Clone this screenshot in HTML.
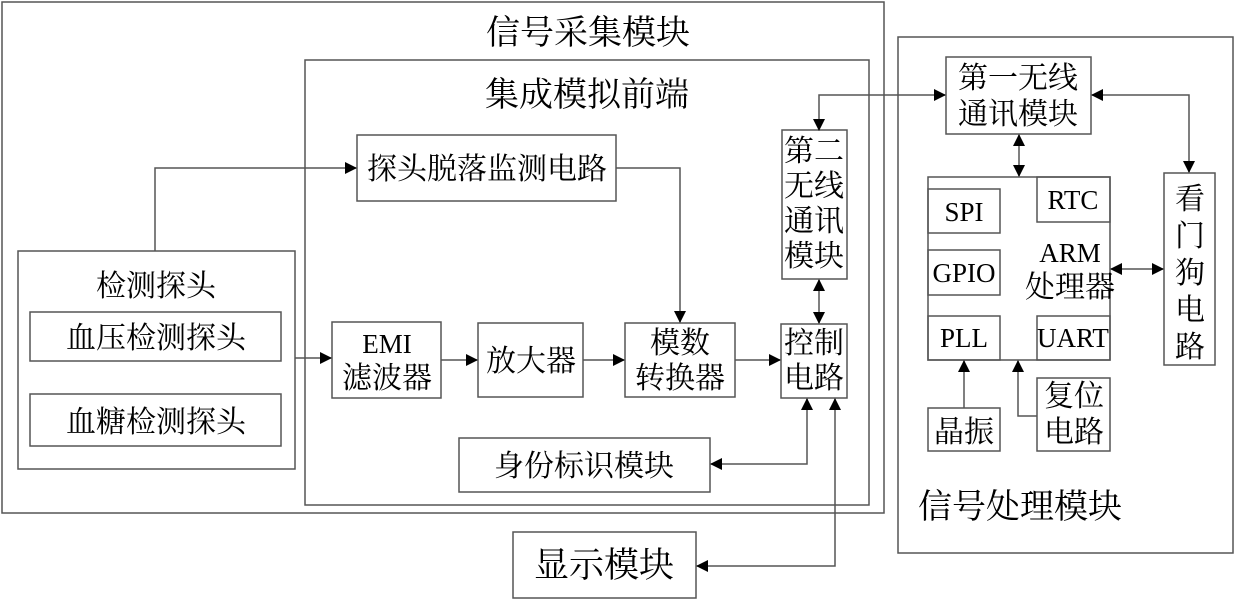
<!DOCTYPE html>
<html><head><meta charset="utf-8"><style>
html,body{margin:0;padding:0;background:#fff;}
svg{display:block;}
text{font-family:"Liberation Serif","Noto Serif CJK SC",serif;fill:#000;}
</style></head><body>
<svg width="1240" height="605" viewBox="0 0 1240 605" xmlns="http://www.w3.org/2000/svg">
<defs>
<marker id="a" markerWidth="12" markerHeight="12" refX="11" refY="6" orient="auto" markerUnits="userSpaceOnUse">
<path d="M0,0 L12,6 L0,12 Z" fill="#000"/></marker>
<marker id="s" markerWidth="12" markerHeight="12" refX="1" refY="6" orient="auto" markerUnits="userSpaceOnUse">
<path d="M12,0 L0,6 L12,12 Z" fill="#000"/></marker>
</defs>
<g fill="none" stroke="#555" stroke-width="1.5">
<rect x="2" y="2" width="882" height="511"/>
<rect x="305" y="60" width="564" height="445"/>
<rect x="18" y="251" width="277" height="218"/>
<rect x="30" y="312" width="251" height="49"/>
<rect x="30" y="394" width="251" height="52"/>
<rect x="357" y="135" width="259" height="66"/>
<rect x="332" y="322" width="109" height="76"/>
<rect x="478" y="323" width="105" height="74"/>
<rect x="625" y="323" width="110" height="74"/>
<rect x="781" y="324" width="66" height="74"/>
<rect x="782" y="130" width="65" height="149"/>
<rect x="459" y="438" width="251" height="54"/>
<rect x="513" y="532" width="183" height="66"/>
<rect x="898" y="37" width="335" height="516"/>
<rect x="946" y="57" width="145" height="77"/>
<rect x="928" y="177" width="182" height="183"/>
<rect x="928" y="189" width="72" height="44"/>
<rect x="1037" y="177" width="73" height="45"/>
<rect x="928" y="250" width="72" height="45"/>
<rect x="928" y="316" width="72" height="44"/>
<rect x="1037" y="316" width="73" height="44"/>
<rect x="1164" y="173" width="51" height="192"/>
<rect x="928" y="408" width="72" height="43"/>
<rect x="1037" y="378" width="73" height="73"/>
</g>
<g fill="none" stroke="#555" stroke-width="1.5">
<polyline points="155,251 155,168 356,168" marker-end="url(#a)"/>
<polyline points="616,168 680,168 680,322" marker-end="url(#a)"/>
<line x1="295" y1="358" x2="331" y2="358" marker-end="url(#a)"/>
<line x1="441" y1="360" x2="477" y2="360" marker-end="url(#a)"/>
<line x1="583" y1="360" x2="624" y2="360" marker-end="url(#a)"/>
<line x1="735" y1="360" x2="780" y2="360" marker-end="url(#a)"/>
<line x1="819" y1="280" x2="819" y2="323" marker-start="url(#s)" marker-end="url(#a)"/>
<polyline points="819,130 819,95 945,95" marker-start="url(#s)" marker-end="url(#a)"/>
<polyline points="807,399 807,464 711,464" marker-start="url(#s)" marker-end="url(#a)"/>
<polyline points="835,399 835,566 697,566" marker-start="url(#s)" marker-end="url(#a)"/>
<line x1="1019" y1="135" x2="1019" y2="176" marker-start="url(#s)" marker-end="url(#a)"/>
<polyline points="1092,95 1189,95 1189,172" marker-start="url(#s)" marker-end="url(#a)"/>
<line x1="1111" y1="269" x2="1163" y2="269" marker-start="url(#s)" marker-end="url(#a)"/>
<line x1="964" y1="408" x2="964" y2="361" marker-end="url(#a)"/>
<polyline points="1037,416 1018,416 1018,361" marker-end="url(#a)"/>
</g>
<g font-size="34" text-anchor="middle">
<text x="588" y="44">信号采集模块</text>
<text x="587" y="106">集成模拟前端</text>
<text x="1020" y="518">信号处理模块</text>
</g>
<g font-size="30" text-anchor="middle">
<text x="156" y="296">检测探头</text>
<text x="156" y="348">血压检测探头</text>
<text x="156" y="432">血糖检测探头</text>
<text x="487" y="179">探头脱落监测电路</text>
<text x="387" y="388">滤波器</text>
<text x="531" y="371">放大器</text>
<text x="680" y="353">模数</text>
<text x="680" y="388">转换器</text>
<text x="814" y="353">控制</text>
<text x="814" y="388">电路</text>
<text x="814" y="161">第二</text>
<text x="814" y="196">无线</text>
<text x="814" y="231">通讯</text>
<text x="814" y="266">模块</text>
<text x="584" y="476">身份标识模块</text>
<text x="604" y="577" font-size="35">显示模块</text>
<text x="1018" y="88">第一无线</text>
<text x="1018" y="124">通讯模块</text>
<text x="1070" y="297">处理器</text>
<text x="964" y="442">晶振</text>
<text x="1074" y="406">复位</text>
<text x="1074" y="442">电路</text>
<text x="1190" y="209">看</text>
<text x="1190" y="246">门</text>
<text x="1190" y="283">狗</text>
<text x="1190" y="320">电</text>
<text x="1190" y="357">路</text>
</g>
<g font-size="27" text-anchor="middle">
<text x="387" y="353">EMI</text>
<text x="964" y="221">SPI</text>
<text x="1073" y="209">RTC</text>
<text x="964" y="282">GPIO</text>
<text x="1070" y="262">ARM</text>
<text x="964" y="347">PLL</text>
<text x="1073" y="347">UART</text>
</g>
</svg>
</body></html>
